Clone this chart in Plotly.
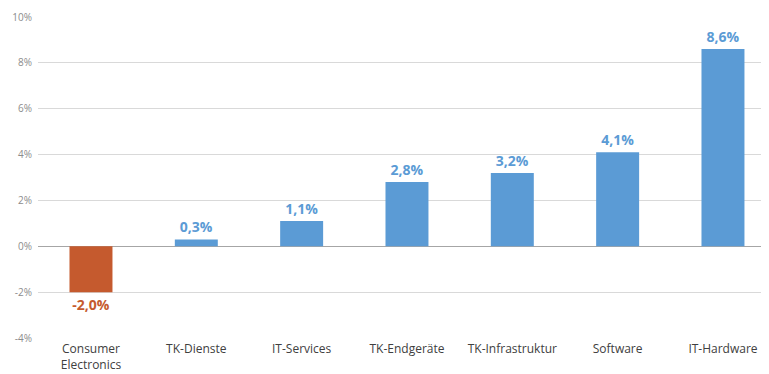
import plotly.graph_objects as go

categories = ["Consumer<br>Electronics", "TK-Dienste", "IT-Services", "TK-Endgeräte",
              "TK-Infrastruktur", "Software", "IT-Hardware"]
values = [-2.0, 0.3, 1.1, 2.8, 3.2, 4.1, 8.6]
tick_vals = [-4, -2, 0, 2, 4, 6, 8, 10]
tick_text = ["-4%", "-2%", "0%", "2%", "4%", "6%", "8%", "10%"]

BLUE = "#5B9BD5"
RED = "#C55A2E"
colors = [RED if v < 0 else BLUE for v in values]
labels = ["<b>" + f"{v:.1f}".replace(".", ",") + "%</b>" for v in values]

fig = go.Figure(go.Bar(
    x=categories, y=values,
    marker=dict(color=colors, line=dict(width=0)),
    text=labels, textposition="outside",
    textfont=dict(family="Open Sans", size=14, color=colors),
    cliponaxis=False,
    hoverinfo="skip",
))

fig.update_layout(
    width=761, height=366,
    margin=dict(l=30, r=2, t=9, b=36, autoexpand=False),
    paper_bgcolor="white", plot_bgcolor="white",
    bargap=0.592,
    showlegend=False,
    font=dict(family="Open Sans", color="#404040"),
)
fig.update_yaxes(
    range=[-4, 10], tickvals=tick_vals, ticktext=tick_text,
    showgrid=True, gridcolor="#D9D9D9", gridwidth=1,
    zeroline=True, zerolinecolor="#A6A6A6", zerolinewidth=1,
    tickfont=dict(size=10, color="#8C8C8C"), ticks="", showline=False,
    automargin=False, ticklabelstandoff=5,
)
fig.update_xaxes(
    range=[-0.503, 6.418],
    tickfont=dict(size=12, color="#404040"), ticks="", showline=False,
    automargin=False, ticklabelstandoff=2,
)

fig.write_html("out.html")
